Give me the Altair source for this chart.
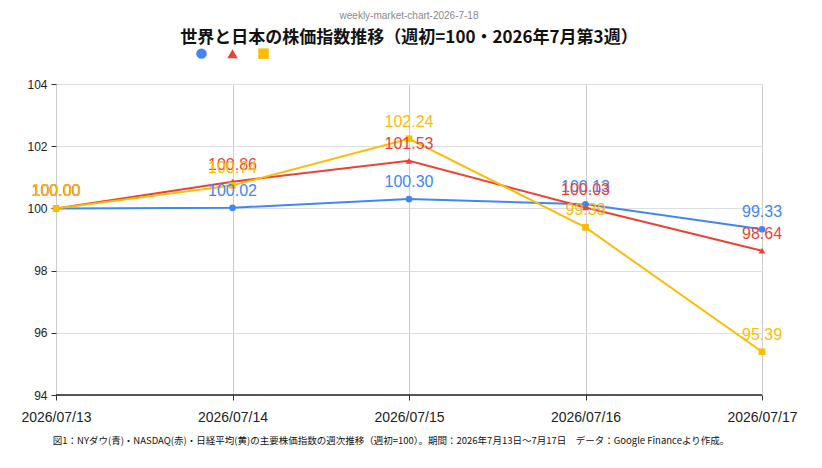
import altair as alt
import pandas as pd

dates = ["2026/07/13", "2026/07/14", "2026/07/15", "2026/07/16", "2026/07/17"]
dow = [100.00, 100.02, 100.30, 100.13, 99.33]
nasdaq = [100.00, 100.86, 101.53, 100.03, 98.64]
nikkei = [100.00, 100.74, 102.24, 99.39, 95.39]
series = ["NYダウ", "NASDAQ", "日経平均"]
colors = ["#4285f4", "#ea4335", "#fbbc04"]
shapes = ["circle", "triangle-up", "square"]

rows = []
for name, vals in zip(series, [dow, nasdaq, nikkei]):
    for d, v in zip(dates, vals):
        rows.append({"date": d, "series": name, "value": v, "label": f"{v:.2f}"})
df = pd.DataFrame(rows)

FONT = "Liberation Sans"
JP = "Noto Sans CJK JP"
x = alt.X("date:O", title=None, scale=alt.Scale(type="point", padding=0),
          axis=alt.Axis(labelAngle=0, labelFontSize=14, labelColor="#222", labelFont=FONT,
                        domain=False, ticks=True, tickColor="#333", labelPadding=10,
                        grid=True, gridColor="#ccc", labelOverlap=False, labelFlush=False))
y = alt.Y("value:Q", title=None, scale=alt.Scale(domain=[94, 104], nice=False),
          axis=alt.Axis(values=list(range(94, 105)), labelExpr="datum.value % 2 == 0 ? datum.label : ''",
                        labelFontSize=12, labelColor="#222", labelFont=FONT, domain=False,
                        tickColor="#333", gridColor="#ddd", labelPadding=4))
color = alt.Color("series:N", scale=alt.Scale(domain=series, range=colors),
                  legend=alt.Legend(orient="none", legendX=140, legendY=-36, direction="horizontal",
                                    title=None, labelExpr="''", symbolSize=110, columnPadding=16,
                                    labelLimit=1, symbolStrokeWidth=0, symbolOpacity=1))
shape = alt.Shape("series:N", scale=alt.Scale(domain=series, range=shapes), legend=None)

base = alt.Chart(df)
lines = base.mark_line(strokeWidth=2).encode(x=x, y=y, color=color)
points = base.mark_point(filled=True, size=45, opacity=1).encode(x=x, y=y, color=color, shape=shape)
labels = base.mark_text(dy=-17, fontSize=16, font=FONT).encode(
    x=x, y=y, text="label:N",
    color=alt.Color("series:N", scale=alt.Scale(domain=series, range=colors), legend=None))
baseline = alt.Chart(pd.DataFrame({"v": [94]})).mark_rule(color="#222", strokeWidth=1.5).encode(
    y=alt.Y("v:Q", scale=alt.Scale(domain=[94, 104])))

top = alt.Chart(pd.DataFrame({"t": ["weekly-market-chart-2026-7-18"]})).mark_text(
    fontSize=10, color="#888", font=FONT).encode(x=alt.value(353), y=alt.value(-68), text="t:N")
title = alt.Chart(pd.DataFrame({"t": ["世界と日本の株価指数推移（週初=100・2026年7月第3週）"]})).mark_text(
    fontSize=17, color="#111", font=JP, fontWeight="bold").encode(x=alt.value(353), y=alt.value(-46), text="t:N")
foot = alt.Chart(pd.DataFrame({"t": ["図1：NYダウ(青)・NASDAQ(赤)・日経平均(黄)の主要株価指数の週次推移（週初=100）。期間：2026年7月13日～7月17日　データ：Google Financeより作成。"]})).mark_text(
    fontSize=9.5, color="#111", font=JP).encode(x=alt.value(335), y=alt.value(357), text="t:N")

chart = alt.layer(lines, baseline, points, labels, top, title, foot).properties(
    width=706, height=311, padding={"left": 48, "top": 76, "right": 52, "bottom": 65},
    autosize=alt.AutoSizeParams(type="none"), background="white"
).configure_view(stroke=None)

chart.save("out.html", embed_options={"renderer": "svg", "actions": False})
